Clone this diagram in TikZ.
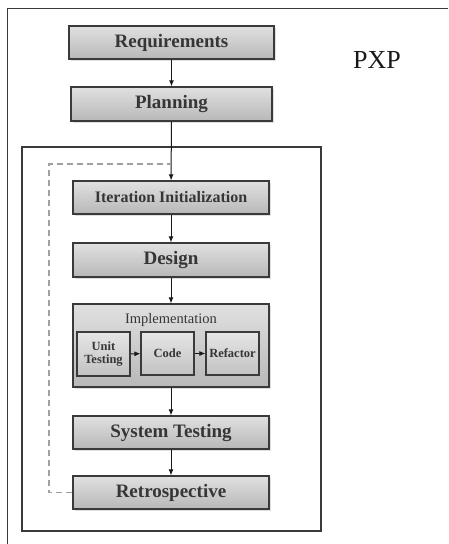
\documentclass[tikz,border=0pt]{standalone}
\usepackage{fontspec}
\setmainfont{Liberation Serif}
\usetikzlibrary{arrows.meta,shadows}
\definecolor{rahmen}{HTML}{3a3a3a}
\definecolor{schrift}{HTML}{363636}
\definecolor{strich}{HTML}{a0a0a0}

\begin{document}
\begin{tikzpicture}[x=1pt,y=-1pt,
  phase/.style={draw=rahmen, line width=1.2pt, top color=black!12, bottom color=black!28,
    drop shadow={opacity=0.25, shadow xshift=1.5pt, shadow yshift=-1.5pt},
    text=schrift, font=\fontsize{19}{21}\selectfont\bfseries, inner sep=0pt},
  teil/.style={draw=rahmen, line width=1.1pt, top color=black!10, bottom color=black!24,
    text=schrift, font=\fontsize{12.5}{13.5}\selectfont\bfseries, inner sep=0pt,
    minimum width=53pt, minimum height=43pt, align=center},
  pfeil/.style={-{Latex[length=6pt,width=5pt]}, line width=1pt, draw=black!90}]
\useasboundingbox (0,0) rectangle (448,544);

% Frames
\draw[rahmen, line width=1pt] (7,544) -- (7,8) -- (448,8);
\draw[rahmen, line width=1.2pt] (22,147) rectangle (321,531);
\node[font=\fontsize{26}{28}\selectfont, text=black!90] (titel) at (377,60) {PXP};

% Phases
\node[phase, minimum width=205pt, minimum height=33pt] (req) at (171.5,42.5) {Requirements};
\node[phase, minimum width=201pt, minimum height=34pt] (plan) at (171.5,104) {Planning};
\node[phase, minimum width=196pt, minimum height=33pt, font=\fontsize{16}{18}\selectfont\bfseries] (init) at (171,197.5) {Iteration Initialization};
\node[phase, minimum width=196pt, minimum height=34pt] (design) at (171,260) {Design};
\node[phase, minimum width=196pt, minimum height=83pt] (impl) at (171,345.5) {};
\node[text=schrift, font=\fontsize{14.5}{16}\selectfont] (impltitel) at (171,320) {Implementation};
\node[teil, minimum height=44pt] (unit) at (103.5,354) {Unit\\Testing};
\node[teil] (code) at (167.5,353.5) {Code};
\node[teil] (refac) at (232.5,353.5) {Refactor};
\node[phase, minimum width=196pt, minimum height=33pt] (systest) at (171,432.5) {System Testing};
\node[phase, minimum width=196pt, minimum height=33pt] (retro) at (171,492.5) {Retrospective};

% Arrows
\draw[pfeil] (req) -- (plan);
\draw[pfeil] (plan) -- (init);
\draw[pfeil] (init) -- (design);
\draw[pfeil] (design) -- (impl);
\draw[pfeil] (impl) -- (systest);
\draw[pfeil] (systest) -- (retro);
\draw[pfeil] (unit) -- (code);
\draw[pfeil] (code) -- (refac);

% Loop back
\coordinate (rueck) at (171,164);
\draw[strich, line width=1.4pt, dash pattern=on 6pt off 4pt] (retro.west) -- (49,492.5) -- (49,164) -- (rueck);
\end{tikzpicture}
\end{document}
